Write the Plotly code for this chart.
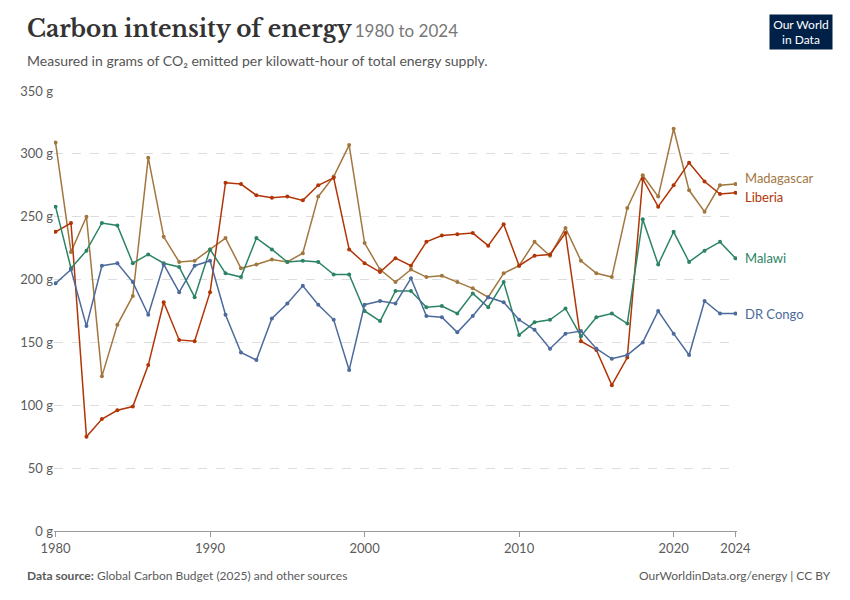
import plotly.graph_objects as go

years = list(range(1980, 2025))

liberia = [238, 245, 75, 89, 96, 99, 132, 182, 152, 151, 190, 277, 276, 267, 265, 266, 263, 275, 281, 224,
           213, 206, 217, 211, 230, 235, 236, 237, 227, 244, 211, 219, 220, 237, 151, 144, 116, 138, 280, 258,
           275, 293, 278, 268, 269]
madagascar = [309, 222, 250, 123, 164, 187, 297, 234, 214, 215, 224, 233, 209, 212, 216, 214, 221, 266, 282, 307,
              229, 208, 198, 208, 202, 203, 198, 193, 186, 205, 211, 230, 219, 241, 215, 205, 202, 257, 283, 266,
              320, 271, 254, 275, 276]
malawi = [258, 209, 223, 245, 243, 213, 220, 213, 210, 186, 224, 205, 202, 233, 224, 214, 215, 214, 204, 204,
          175, 167, 191, 191, 178, 179, 173, 189, 178, 198, 156, 166, 168, 177, 155, 170, 173, 165, 248, 212,
          238, 214, 223, 230, 217]
drc = [197, 208, 163, 211, 213, 198, 172, 212, 190, 211, 215, 172, 142, 136, 169, 181, 195, 180, 168, 128,
       180, 183, 181, 201, 171, 170, 158, 171, 186, 182, 168, 160, 145, 157, 159, 145, 137, 140, 150, 175,
       157, 140, 183, 173, 173]

series = {
    "Madagascar": (madagascar, "#a2773f", 281),
    "Liberia": (liberia, "#b13507", 266),
    "Malawi": (malawi, "#2c8465", 217),
    "DR Congo": (drc, "#4c6a9c", 173),
}

fig = go.Figure()
for name, (vals, col, label_y) in series.items():
    fig.add_trace(go.Scatter(x=years, y=vals, mode="lines+markers", name=name,
                             line=dict(color=col, width=1.5), marker=dict(size=4, color=col)))
    fig.add_annotation(x=2024, y=label_y, text=name, showarrow=False, xanchor="left", xshift=8,
                       font=dict(size=13, color=col))

fig.update_layout(
    width=850, height=600, showlegend=False,
    plot_bgcolor="white", paper_bgcolor="white",
    font=dict(family="Lato", color="#5b5b5b"),
    margin=dict(l=46, r=121, t=83, b=77, autoexpand=False),
)
fig.add_annotation(text="<b><span style='font-family:Libre Baskerville, Georgia, serif; font-size:23px; color:#333'>Carbon intensity of energy</span></b>"
                        " <span style='font-size:17px; color:#777'>1980 to 2024</span>",
                   xref="paper", yref="paper", x=-0.042, y=1.14, xanchor="left", yanchor="middle",
                   showarrow=False)
fig.add_annotation(text="Measured in grams of CO₂ emitted per kilowatt-hour of total energy supply.",
                   xref="paper", yref="paper", x=-0.042, y=1.07, xanchor="left", yanchor="middle",
                   showarrow=False, font=dict(size=14, color="#555"))
fig.add_annotation(text="<b>Data source:</b> Global Carbon Budget (2025) and other sources",
                   xref="paper", yref="paper", x=-0.042, y=-0.102, xanchor="left", yanchor="middle",
                   showarrow=False, font=dict(size=12, color="#5b5b5b"))
fig.add_annotation(text="OurWorldinData.org/energy | CC BY",
                   xref="paper", yref="paper", x=1.14, y=-0.102, xanchor="right", yanchor="middle",
                   showarrow=False, font=dict(size=12, color="#5b5b5b"))
fig.add_annotation(text="Our World<br>in Data", xref="paper", yref="paper", x=1.14, y=1.175,
                   xanchor="right", yanchor="top", showarrow=False, bgcolor="#002147",
                   font=dict(size=12, color="white"), width=58, height=30, borderpad=2)

fig.update_xaxes(range=[1979.9, 2024.1], tickvals=[1980, 1990, 2000, 2010, 2020, 2024],
                 showgrid=False, showline=True, linecolor="#999", ticks="outside", tickcolor="#999",
                 tickfont=dict(size=13))
fig.update_yaxes(range=[0, 350], tickvals=[0, 50, 100, 150, 200, 250, 300, 350],
                 ticktext=[f"{v} g" for v in range(0, 351, 50)],
                 gridcolor="#ddd", griddash="dash", zeroline=False,
                 tickfont=dict(size=13))

fig.write_html("out.html")
